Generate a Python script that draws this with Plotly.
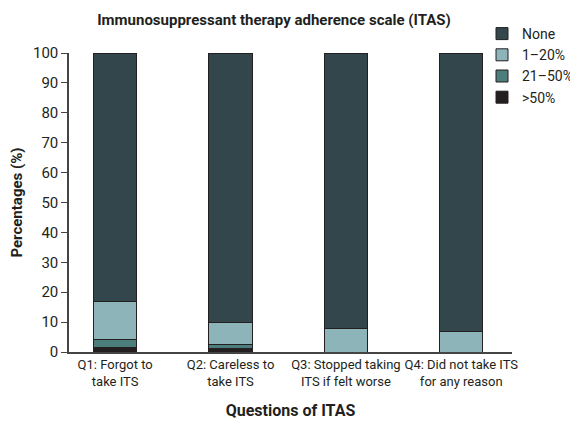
import plotly.graph_objects as go

categories = ["Q1: Forgot to<br>take ITS", "Q2: Careless to<br>take ITS",
              "Q3: Stopped taking<br>ITS if felt worse", "Q4: Did not take ITS<br>for any reason"]
over50 = [1.5, 1.3, 0.0, 0.0]
p21_50 = [2.7, 1.2, 0.0, 0.0]
p1_20 = [12.6, 7.5, 7.7, 7.0]
none = [83.2, 90.0, 92.3, 93.0]
y_ticks = list(range(0, 101, 10))

FONT = "Roboto, Liberation Sans, sans-serif"
TXT = "#231f20"

# page body has an 8px margin: figure is drawn 8px right/down
W, H = 570, 420
L, T, R, B = 61, 45, 504, 344   # plot area in figure px

fig = go.Figure()
series = [(">50%", over50, "#231f20"), ("21\u201350%", p21_50, "#4b7d7d"),
          ("1\u201320%", p1_20, "#8cb4b9"), ("None", none, "#33464c")]
for name, vals, col in series:
    fig.add_trace(go.Bar(x=categories, y=vals, name=name, width=0.375,
                         marker=dict(color=col, line=dict(color="#231f20", width=1))))

plot_h = B - T
plot_w = R - L
fig.update_layout(
    barmode="stack",
    width=W, height=H,
    margin=dict(l=L, r=W - R, t=T, b=H - B, autoexpand=False),
    paper_bgcolor="white", plot_bgcolor="white",
    font=dict(family=FONT, color=TXT, size=14),
    title=dict(text="<b>Immunosuppressant therapy adherence scale (ITAS)</b>",
               x=266 / W, xanchor="center", y=1 - 12 / H, yanchor="middle",
               font=dict(size=15, family=FONT, color=TXT)),
    legend=dict(x=(474 - L) / plot_w, xref="paper", y=1 + (T - 10) / plot_h, yref="paper",
                xanchor="left", yanchor="top", traceorder="reversed",
                font=dict(size=14), itemwidth=30, tracegroupgap=0,
                bgcolor="rgba(0,0,0,0)"),
    showlegend=True,
)
fig.update_xaxes(type="category", range=[-0.4, 3.44], showline=True, linecolor="#444",
                 linewidth=1.5, ticks="", tickangle=0, tickfont=dict(size=13), showgrid=False,
                 automargin=False,
                 title=dict(text="<b>Questions of ITAS</b>", font=dict(size=16), standoff=17))
fig.update_yaxes(range=[0, 100], tickvals=y_ticks, showline=True, linecolor="#444",
                 linewidth=1.5, ticks="outside", ticklen=6, tickcolor="#444",
                 tickfont=dict(size=15), showgrid=False, zeroline=False, automargin=False,
                 title=dict(text="<b>Percentages (%)</b>", font=dict(size=15), standoff=8))

fig.write_html("out.html")
